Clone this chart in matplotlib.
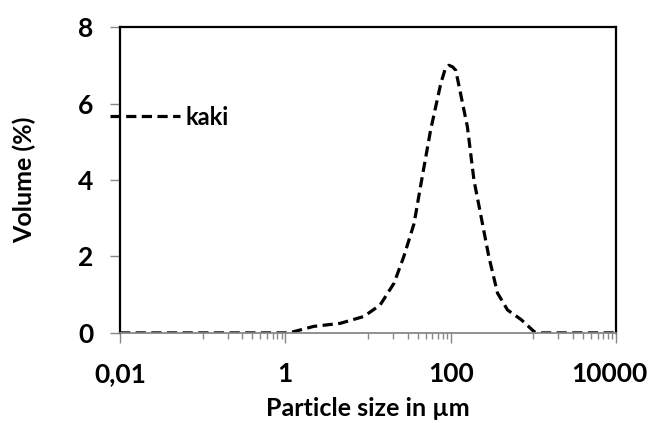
import matplotlib.pyplot as plt
from matplotlib.transforms import ScaledTranslation
import numpy as np

# data
size_um = [0.01, 0.1, 1.0, 1.2, 2.2, 4.6, 8.9, 14, 20.6, 27, 36, 43, 57, 75.7,
           85, 95, 105, 115, 159, 191, 229, 289, 368, 486, 708, 1023, 1190, 3000, 10000]
volume = [0, 0, 0, 0.02, 0.17, 0.25, 0.43, 0.73, 1.30, 1.99, 2.86, 3.82, 5.30, 6.52,
          6.88, 7.0, 6.96, 6.87, 5.39, 3.99, 3.12, 1.99, 1.04, 0.60, 0.35, 0.03, 0, 0, 0]

x_major = [0.01, 1, 100, 10000]
x_labels = ["0,01", "1", "100", "10000"]
y_major = [0, 2, 4, 6, 8]

plt.rcParams['font.family'] = ['Lato', 'DejaVu Sans']
plt.rcParams['font.weight'] = 'bold'

fig = plt.figure(figsize=(6.52, 4.23), dpi=100)
ax = fig.add_axes([0.184, 0.213, 0.761, 0.723])

ax.plot(size_um, volume, color="black", lw=2.3, linestyle=(0, (3.2, 1.7)), label="kaki")

ax.set_xscale("log")
ax.set_xlim(0.01, 10000)
ax.set_ylim(0, 8)

ax.set_xticks(x_major)
ax.set_xticklabels(x_labels)
minor = [j * 10.0 ** e for e in (-1, 1, 3) for j in range(1, 10)]
ax.set_xticks(minor, minor=True)
ax.set_xticklabels([], minor=True)
ax.set_yticks(y_major)

ax.tick_params(axis="both", which="major", direction="out", length=7, width=1,
               color="#888888", labelsize=19)
ax.tick_params(axis="y", which="major", pad=12)
ax.tick_params(axis="x", which="major", pad=14)
ax.tick_params(axis="x", which="minor", direction="out", length=4, width=1, color="#888888")

# nudge the last x label left so it stays inside the figure
last = ax.get_xticklabels()[-1]
last.set_transform(last.get_transform() + ScaledTranslation(-0.07, 0, fig.dpi_scale_trans))

for s in ["top", "right", "left"]:
    ax.spines[s].set_color("black")
    ax.spines[s].set_linewidth(1.6)
ax.spines["bottom"].set_color("#888888")
ax.spines["bottom"].set_linewidth(1.3)

ax.set_xlabel("Particle size in µm", fontsize=18, fontweight="bold", labelpad=8)
ax.set_ylabel("Volume (%)", fontsize=18, fontweight="bold", labelpad=30)

fig.legend(loc="center left", bbox_to_anchor=(0.168, 0.723), frameon=False,
           fontsize=17, handlelength=3.0, handletextpad=0.2, borderpad=0,
           borderaxespad=0)

fig.savefig("out.png", dpi=100)
